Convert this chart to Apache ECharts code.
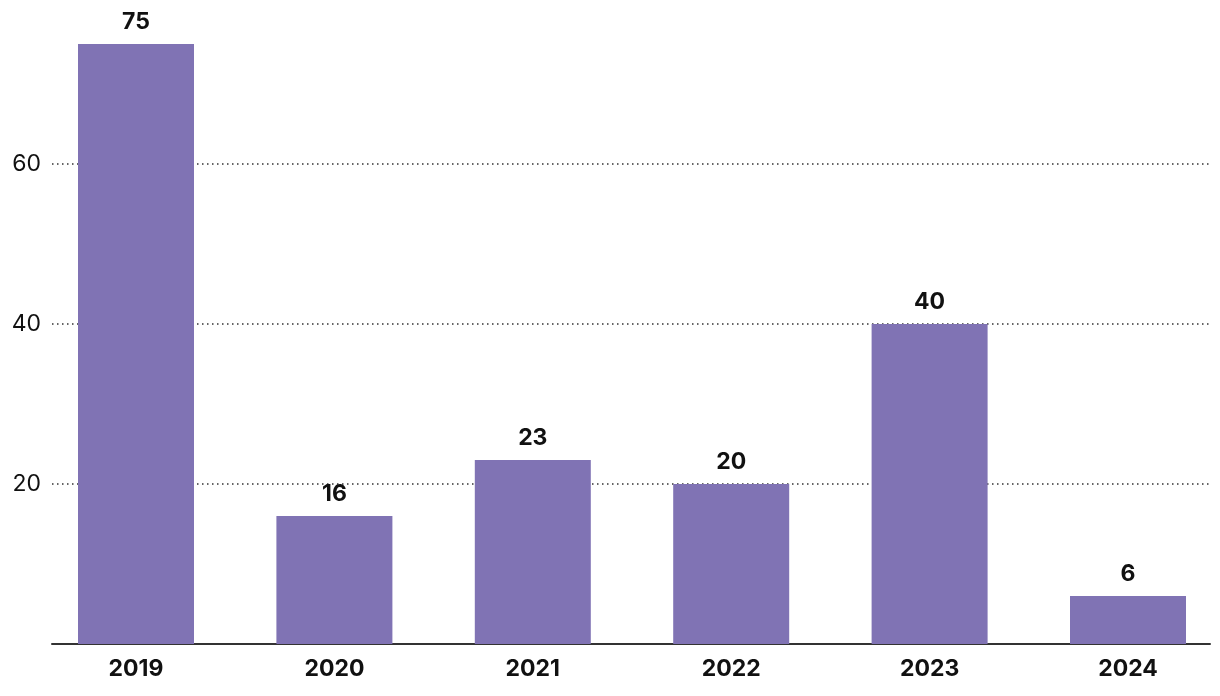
<!DOCTYPE html>
<html><head><meta charset="utf-8">
<script src="https://cdn.jsdelivr.net/npm/echarts@6/dist/echarts.min.js"></script>
<style>html,body{margin:0;padding:0;background:#fff}#c{width:1220px;height:696px}</style>
</head><body><div id="c"></div>
<script>
const categories = ['2019','2020','2021','2022','2023','2024'];
const values = [75,16,23,20,40,6];
const yTicks = [0,20,40,60];

const chart = echarts.init(document.getElementById('c'), null, {renderer:'canvas'});
const font = 'Inter, "Noto Sans", sans-serif';
const positions = categories.map((c,i)=>i);
chart.setOption({
  animation:false,
  grid:[
    {left:52, right:10, top:44, bottom:52},
    {left:0, right:0, top:44, bottom:52}
  ],
  xAxis:[
    {type:'category', gridIndex:0, data:categories, show:true,
     axisLine:{show:true, lineStyle:{color:'#333', width:2}}, axisTick:{show:false}, axisLabel:{show:false}},
    {type:'value', gridIndex:1, min:-0.6855, max:5.4637,
     axisLine:{show:false}, axisTick:{show:false}, splitLine:{show:false},
     axisLabel:{customValues:positions, formatter:v=>categories[Math.round(v)],
       margin:14, fontFamily:font, fontSize:23, fontWeight:'bold', color:'#111'}}
  ],
  yAxis:[
    {type:'value', gridIndex:0, min:0, max:75, interval:20,
     axisLine:{show:false}, axisTick:{show:false},
     axisLabel:{showMinLabel:false, showMaxLabel:false, margin:11, fontFamily:font, fontSize:23, color:'#111',
       formatter:v=>yTicks.includes(v)&&v!==0?String(v):''},
     splitLine:{show:true, showMinLine:false, showMaxLine:false, lineStyle:{color:'#333', type:[1.5,3.5], width:1.5}}},
    {type:'value', gridIndex:1, min:0, max:75, show:false, splitLine:{show:false}}
  ],
  series:[{
    type:'bar', xAxisIndex:1, yAxisIndex:1, data:positions.map(i=>[i, values[i]]), barWidth:116,
    itemStyle:{color:'#8073b4'},
    label:{show:true, position:'top', distance:10, fontFamily:font, fontSize:23, fontWeight:'bold', color:'#111',
      formatter:p=>String(p.value[1])}
  }]
});
</script></body></html>
